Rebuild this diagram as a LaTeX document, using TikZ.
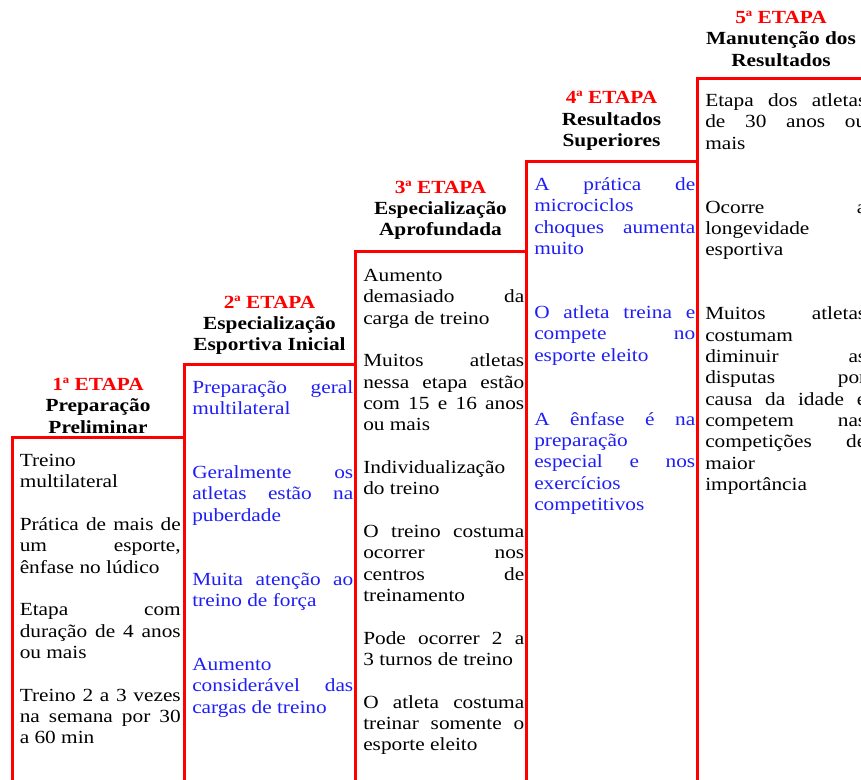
\documentclass[tikz,border=0pt]{standalone}
\usepackage{fontspec}
\setmainfont{Liberation Serif}[FakeStretch=1.15]
\definecolor{etapared}{RGB}{255,0,0}
\definecolor{etapablue}{RGB}{30,30,245}
\tolerance=10000
\hbadness=10000
\tikzset{
  caixa/.style={draw=etapared,line width=2.25pt},
  titulo/.style={anchor=south,align=center,inner sep=0pt,font=\fontsize{13.9pt}{15.9pt}\selectfont\bfseries},
  corpo/.style={anchor=base west,text width=120.75pt,align=justify,inner sep=0pt,font=\fontsize{13.9pt}{16pt}\selectfont},
  umalinha/.style={execute at begin node={\setlength{\parskip}{16pt}}},
  duaslinhas/.style={execute at begin node={\setlength{\parskip}{32pt}}}
}
\begin{document}
\begin{tikzpicture}[x=0.75pt,y=-0.75pt]
\useasboundingbox(0,0)rectangle(861,779);
\clip(0,0)rectangle(861,779);
%
\foreach \x/\y/\w in {12/437/172,184/364/171,355/251/171,526/161/171,697/78/171}{\draw[caixa](\x,800)rectangle(\x+\w,\y);}
%
\node[titulo](h1)at(98,433.5){{\color{etapared}1ª ETAPA}\\Preparação\\Preliminar};
\node[titulo](h2)at(269.5,355){{\color{etapared}2ª ETAPA}\\Especialização\\Esportiva Inicial};
\node[titulo](h3)at(440.5,240){{\color{etapared}3ª ETAPA}\\Especialização\\Aprofundada};
\node[titulo](h4)at(611.5,150.5){{\color{etapared}4ª ETAPA}\\Resultados\\Superiores};
\node[titulo](h5)at(781,66.5){{\color{etapared}5ª ETAPA}\\Manutenção dos\\Resultados};
%
\node[corpo,umalinha](b1)at(19.5,466.5){Treino\linebreak multilateral\par
Prática de mais de\linebreak um esporte,\linebreak ênfase no lúdico\par
Etapa com\linebreak duração de 4 anos\linebreak ou mais\par
Treino 2 a 3 vezes\linebreak na semana por 30\linebreak a 60 min};
\node[corpo,duaslinhas,text=etapablue](b2)at(192,393){Preparação geral\linebreak multilateral\par
Geralmente os\linebreak atletas estão na\linebreak puberdade\par
Muita atenção ao\linebreak treino de força\par
Aumento\linebreak considerável das\linebreak cargas de treino};
\node[corpo,umalinha](b3)at(363,281.5){Aumento\linebreak demasiado da\linebreak carga de treino\par
Muitos atletas\linebreak nessa etapa estão\linebreak com 15 e 16 anos\linebreak ou mais\par
Individualização\linebreak do treino\par
O treino costuma\linebreak ocorrer nos\linebreak centros de\linebreak treinamento\par
Pode ocorrer 2 a\linebreak 3 turnos de treino\par
O atleta costuma\linebreak treinar somente o\linebreak esporte eleito};
\node[corpo,duaslinhas,text=etapablue](b4)at(534,190.5){A prática de\linebreak microciclos\linebreak choques aumenta\linebreak muito\par
O atleta treina e\linebreak compete no\linebreak esporte eleito\par
A ênfase é na\linebreak preparação\linebreak especial e nos\linebreak exercícios\linebreak competitivos};
\node[corpo,duaslinhas](b5)at(705,106.5){Etapa dos atletas\linebreak de 30 anos ou\linebreak mais\par
Ocorre a\linebreak longevidade\linebreak esportiva\par
Muitos atletas\linebreak costumam\linebreak diminuir as\linebreak disputas por\linebreak causa da idade e\linebreak competem nas\linebreak competições de\linebreak maior\linebreak importância};
\end{tikzpicture}
\end{document}
